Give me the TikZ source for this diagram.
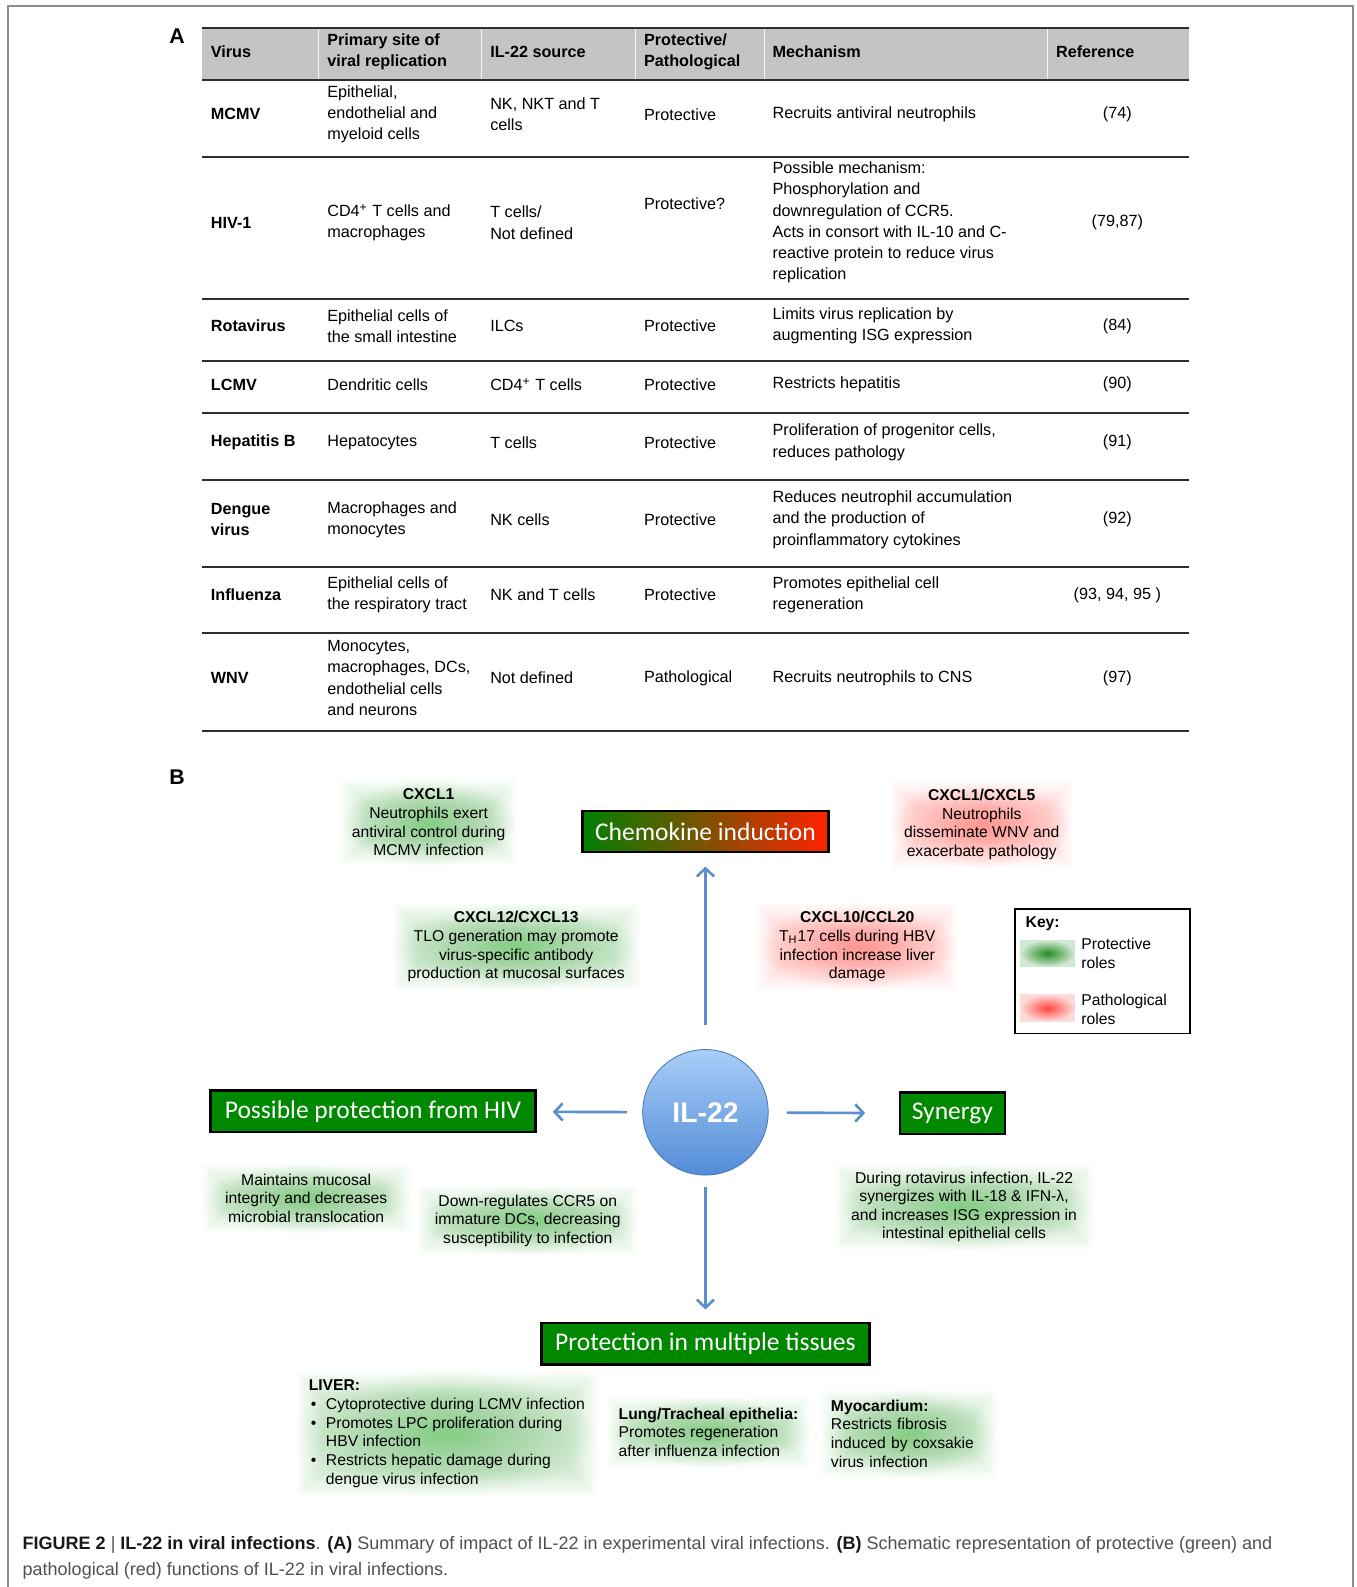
\documentclass[tikz,border=0pt]{standalone}
\usepackage{fontspec}
\setmainfont{Liberation Sans}
\newfontfamily\calibri{Carlito}
\usetikzlibrary{arrows.meta}

\definecolor{pHead}{RGB}{196,196,196}
\definecolor{pRule}{RGB}{45,45,45}
\definecolor{pFrame}{RGB}{140,140,140}
\definecolor{pBox}{RGB}{0,136,0}
\definecolor{pBoxL}{RGB}{0,128,0}
\definecolor{pBoxR}{RGB}{255,34,0}
\definecolor{pGlowG}{RGB}{40,165,40}
\definecolor{pGlowR}{RGB}{255,70,60}
\definecolor{pArrow}{RGB}{92,143,205}
\definecolor{pBallT}{RGB}{170,205,248}
\definecolor{pBallB}{RGB}{82,140,214}
\definecolor{pCap}{RGB}{80,80,80}

\newcommand\tablefont{\fontsize{8}{10.5}\selectfont}
\newcommand\glowfont{\fontsize{7.75}{9.2}\selectfont}
\newcommand\titlefont{\calibri\fontsize{12.6}{14}\selectfont}
\newcommand\lvbullet{\makebox[8.5pt][l]{\hspace{1pt}\textbullet}}
\newcommand\capbf[1]{\textcolor{black!90}{\textbf{#1}}}

\tikzset{
  cell/.style={anchor=west, align=left, inner sep=0pt, font=\tablefont},
  head/.style={cell, font=\tablefont\bfseries},
  refcell/.style={inner sep=0pt, font=\tablefont},
  rowline/.style={draw=pRule, line width=1pt},
  glow/.style={align=center, inner sep=0pt, font=\glowfont,
    path picture={
      \shade[inner color=#1!45!white, outer color=white]
        (path picture bounding box.south west) rectangle (path picture bounding box.north east);
      \foreach \k in {0,...,9}
        \fill[#1, opacity=0.018]
          ([shift={(\k*1.3pt,\k*1.3pt)}]path picture bounding box.south west)
          rectangle ([shift={(-\k*1.3pt,-\k*1.3pt)}]path picture bounding box.north east);
    }},
  swatch/.style={minimum width=27pt, minimum height=13pt, inner sep=0pt,
    path picture={
      \shade[inner color=#1, outer color=#1!20!white]
        (path picture bounding box.south west) rectangle (path picture bounding box.north east);
    }},
  titlebox/.style={draw=black, line width=1.2pt, fill=pBox, text=white,
    font=\titlefont, inner sep=0pt, minimum height=20.5pt},
  ball/.style={circle, draw=pBallB!85!black, line width=0.4pt, top color=pBallT,
    bottom color=pBallB, minimum size=62pt, inner sep=0pt, text=white,
    font=\fontsize{14}{14}\selectfont\bfseries},
  flow/.style={draw=pArrow, line width=1.3pt, -{Straight Barb[length=4pt,width=8.5pt]}},
  panel/.style={font=\fontsize{10.5}{12}\selectfont\bfseries, inner sep=0pt}
}

\begin{document}
\begin{tikzpicture}[x=0.5pt, y=-0.5pt]
  \useasboundingbox (0,0) rectangle (1340,1568);

  % Outer frame (open at the bottom)
  \draw[pFrame, line width=0.8pt] (8,1568) -- (8,6) -- (1337,6) -- (1337,1568);

  % Panel letters
  \node[panel] (labA) at (175,36) {A};
  \node[panel] (labB) at (175,768) {B};

  % Table header band and rules
  \fill[pHead] (200,28) rectangle (1175,79);
  \foreach \x in {315,476,628,755,1035}
    \draw[white!80!pHead, line width=0.6pt] (\x,29) -- (\x,78);
  \foreach \y in {28,79,155,295,357,408,474,560,625,722}
    \draw[rowline] (200,\y) -- (1175,\y);

  % Header texts
  \node[head] (h-virus) at (208,51) {Virus};
  \node[head] (h-site) at (323,51) {Primary site of\\viral replication};
  \node[head] (h-src) at (484,51) {IL-22 source};
  \node[head] (h-role) at (636,51) {Protective/\\Pathological};
  \node[head] (h-mech) at (763,51) {Mechanism};
  \node[head] (h-ref) at (1043,51) {Reference};

  % Table rows
  \foreach \tag/\y/\virus/\site/\src/\mech/\refs in {
    mcmv/113/MCMV/{Epithelial,\\endothelial and\\myeloid cells}/{NK, NKT and T\\cells}/{Recruits antiviral neutrophils}/{(74)},
    hiv/220/HIV-1/{CD4\textsuperscript{+} T cells and\\macrophages}/{T cells/\\Not defined}/{Possible mechanism:\\Phosphorylation and\\downregulation of CCR5.\\Acts in consort with IL-10 and C-\\reactive protein to reduce virus\\replication}/{(79,87)},
    rota/322/Rotavirus/{Epithelial cells of\\the small intestine}/ILCs/{Limits virus replication by\\augmenting ISG expression}/{(84)},
    lcmv/380/LCMV/{Dendritic cells}/{CD4\textsuperscript{+} T cells}/{Restricts hepatitis}/{(90)},
    hepb/437/{Hepatitis B}/Hepatocytes/{T cells}/{Proliferation of progenitor cells,\\reduces pathology}/{(91)},
    dengue/513.5/{Dengue\\virus}/{Macrophages and\\monocytes}/{NK cells}/{Reduces neutrophil accumulation\\and the production of\\proinflammatory cytokines}/{(92)},
    flu/588/Influenza/{Epithelial cells of\\the respiratory tract}/{NK and T cells}/{Promotes epithelial cell\\regeneration}/{(93, 94, 95 )},
    wnv/670/WNV/{Monocytes,\\macrophages, DCs,\\endothelial cells\\and neurons}/{Not defined}/{Recruits neutrophils to CNS}/{(97)}} {
    \node[head] (\tag-virus) at (208,\y) {\virus};
    \node[cell] (\tag-site) at (323,\y) {\site};
    \node[cell] (\tag-src) at (484,\y) {\src};
    \node[cell] (\tag-mech) at (763,\y) {\mech};
    \node[refcell] (\tag-ref) at (1104,\y) {\refs};
  }

  % Protective / pathological column
  \foreach \tag/\y/\role in {mcmv/113/Protective, hiv/201/Protective?, rota/322/Protective,
      lcmv/380/Protective, hepb/437/Protective, dengue/513.5/Protective,
      flu/588/Protective, wnv/670/Pathological} {
    \node[cell] (\tag-role) at (636,\y) {\role};
  }

  % Panel B: central hub and headings
  \node[ball] (il22) at (697,1099) {IL-22};
  \node[titlebox, minimum width=121.5pt, left color=pBoxL, right color=pBoxR] (chemobox) at (697,821.5) {Chemokine induction};
  \node[titlebox, minimum width=160.5pt] (hivbox) at (368.5,1098) {Possible protection from HIV};
  \node[titlebox, minimum width=52pt] (synbox) at (941,1100) {Synergy};
  \node[titlebox, minimum width=162pt] (tissuebox) at (697,1327.5) {Protection in multiple tissues};

  \draw[flow, shorten <=12pt, shorten >=6.5pt] (il22) -- (chemobox);
  \draw[flow, shorten <=7.5pt, shorten >=8pt] (il22) -- (hivbox);
  \draw[flow, shorten <=9pt, shorten >=16.5pt] (il22) -- (synbox);
  \draw[flow, shorten <=5.5pt, shorten >=6pt] (il22) -- (tissuebox);

  % Chemokine notes
  \node[glow=pGlowG, minimum width=86.5pt, minimum height=42.5pt] (cxcl1) at (423.5,812.5)
    {\textbf{CXCL1}\\Neutrophils exert\\antiviral control during\\MCMV infection};
  \node[glow=pGlowR, minimum width=90pt, minimum height=42.5pt] (cxcl15) at (970,814.5)
    {\textbf{CXCL1/CXCL5}\\Neutrophils\\disseminate WNV and\\exacerbate pathology};
  \node[glow=pGlowG, minimum width=122pt, minimum height=42.5pt] (cxcl1213) at (510,935.5)
    {\textbf{CXCL12/CXCL13}\\TLO generation may promote\\virus-specific antibody\\production at mucosal surfaces};
  \node[glow=pGlowR, minimum width=99pt, minimum height=42.5pt] (cxcl10) at (847,935.5)
    {\textbf{CXCL10/CCL20}\\T\textsubscript{H}17 cells during HBV\\infection increase liver\\damage};

  % HIV and synergy notes
  \node[glow=pGlowG, minimum width=102.5pt, minimum height=34pt] (mucosa) at (302.5,1184)
    {Maintains mucosal\\integrity and decreases\\microbial translocation};
  \node[glow=pGlowG, minimum width=108.5pt, minimum height=34pt] (ccr5) at (521.5,1206)
    {Down-regulates CCR5 on\\immature DCs, decreasing\\susceptibility to infection};
  \node[glow=pGlowG, minimum width=127.5pt, minimum height=42.5pt] (rotanote) at (952.5,1192.5)
    {During rotavirus infection, IL-22\\synergizes with IL-18 \& IFN-λ,\\and increases ISG expression in\\intestinal epithelial cells};

  % Tissue notes
  \node[glow=pGlowG, minimum width=148.5pt, minimum height=61.5pt, align=left] (liver) at (441.5,1416.5)
    {\textbf{LIVER:}\\\lvbullet Cytoprotective during LCMV infection\\\lvbullet Promotes LPC proliferation during\\\hspace*{8.5pt}HBV infection\\\lvbullet Restricts hepatic damage during\\\hspace*{8.5pt}dengue virus infection};
  \node[glow=pGlowG, minimum width=100pt, minimum height=35pt, align=left] (lung) at (700,1415)
    {\textbf{Lung/Tracheal epithelia:}\\Promotes regeneration\\after influenza infection};
  \node[glow=pGlowG, text width=77.5pt, minimum width=86.5pt, minimum height=43.5pt, align=left] (myo) at (898.5,1416.5)
    {\textbf{Myocardium:}\\Restricts fibrosis\\induced by coxsakie\\virus infection};

  % Key
  \node[draw=black, line width=0.8pt, minimum width=86.5pt, minimum height=61.5pt, inner sep=0pt] (keybox) at (1089.5,959.5) {};
  \node[cell, font=\glowfont\bfseries] (keytitle) at (1013,913) {Key:};
  \node[swatch=pGlowG!85!black] (keyprot) at (1035,942) {};
  \node[cell, font=\glowfont] (keyprottext) at (1068,942) {Protective\\roles};
  \node[swatch=pGlowR] (keypath) at (1035,996) {};
  \node[cell, font=\glowfont] (keypathtext) at (1068,997) {Pathological\\roles};

  % Caption
  \node[anchor=west, align=left, inner sep=0pt, text=pCap, font=\fontsize{8.9}{13}\selectfont] (caption) at (22,1539)
    {\capbf{FIGURE 2} | \capbf{IL-22 in viral infections}. \capbf{(A)} Summary of impact of IL-22 in experimental viral infections. \capbf{(B)} Schematic representation of protective (green) and\\pathological (red) functions of IL-22 in viral infections.};

\end{tikzpicture}
\end{document}
